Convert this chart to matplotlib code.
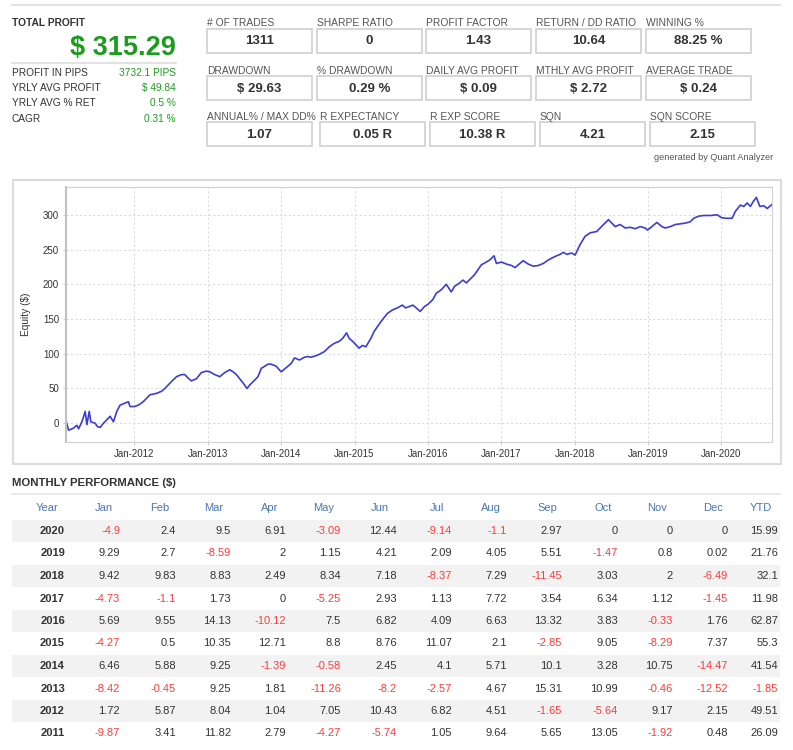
import matplotlib
matplotlib.use("Agg")
import matplotlib.pyplot as plt
import matplotlib.dates as mdates
from matplotlib.patches import Rectangle
from matplotlib.lines import Line2D
from datetime import datetime, timedelta

plt.rcParams['font.family'] = ['Liberation Sans', 'DejaVu Sans']

W, H = 793, 750

# summary block
total_profit = "$ 315.29"
summary_labels = ["PROFIT IN PIPS", "YRLY AVG PROFIT", "YRLY AVG % RET", "CAGR"]
summary_values = ["3732.1 PIPS", "$ 49.84", "0.5 %", "0.31 %"]

# metric boxes, row by row
box_labels_1 = ["# OF TRADES", "SHARPE RATIO", "PROFIT FACTOR", "RETURN / DD RATIO", "WINNING %"]
box_values_1 = ["1311", "0", "1.43", "10.64", "88.25 %"]
box_labels_2 = ["DRAWDOWN", "% DRAWDOWN", "DAILY AVG PROFIT", "MTHLY AVG PROFIT", "AVERAGE TRADE"]
box_values_2 = ["$ 29.63", "0.29 %", "$ 0.09", "$ 2.72", "$ 0.24"]
box_labels_3 = ["ANNUAL% / MAX DD%", "R EXPECTANCY", "R EXP SCORE", "SQN", "SQN SCORE"]
box_values_3 = ["1.07", "0.05 R", "10.38 R", "4.21", "2.15"]

# equity curve (decimal year, $)
eq_year = [2011.072, 2011.104, 2011.172, 2011.217, 2011.240, 2011.285, 2011.330, 2011.353, 2011.385, 2011.407,
           2011.466, 2011.498, 2011.534, 2011.579, 2011.624, 2011.670, 2011.715, 2011.760, 2011.805, 2011.873,
           2011.919, 2011.941, 2012.000, 2012.054, 2012.122, 2012.167, 2012.213, 2012.303, 2012.371, 2012.416,
           2012.462, 2012.507, 2012.575, 2012.643, 2012.688, 2012.733, 2012.778, 2012.846, 2012.914, 2012.982,
           2013.027, 2013.095, 2013.163, 2013.231, 2013.299, 2013.344, 2013.389, 2013.434, 2013.480, 2013.534,
           2013.570, 2013.638, 2013.683, 2013.729, 2013.774, 2013.819, 2013.864, 2013.932, 2014.000, 2014.068,
           2014.136, 2014.181, 2014.249, 2014.317, 2014.362, 2014.407, 2014.498, 2014.588, 2014.656, 2014.724,
           2014.792, 2014.837, 2014.891, 2014.928, 2014.973, 2015.018, 2015.063, 2015.109, 2015.154, 2015.222,
           2015.267, 2015.312, 2015.380, 2015.448, 2015.516, 2015.584, 2015.652, 2015.697, 2015.795, 2015.841,
           2015.895, 2015.954, 2016.000, 2016.068, 2016.114, 2016.182, 2016.251, 2016.319, 2016.364, 2016.433,
           2016.478, 2016.524, 2016.592, 2016.638, 2016.683, 2016.729, 2016.797, 2016.843, 2016.902, 2016.934,
           2017.002, 2017.071, 2017.139, 2017.185, 2017.253, 2017.298, 2017.367, 2017.435, 2017.503, 2017.572,
           2017.640, 2017.731, 2017.800, 2017.845, 2017.891, 2017.959, 2018.005, 2018.073, 2018.141, 2018.210,
           2018.301, 2018.346, 2018.392, 2018.460, 2018.506, 2018.551, 2018.620, 2018.688, 2018.756, 2018.825,
           2018.893, 2018.961, 2018.993, 2019.052, 2019.121, 2019.189, 2019.235, 2019.303, 2019.371, 2019.440,
           2019.508, 2019.576, 2019.622, 2019.690, 2019.759, 2019.850, 2019.941, 2020.000, 2020.055, 2020.146,
           2020.191, 2020.260, 2020.305, 2020.351, 2020.396, 2020.433, 2020.478, 2020.524, 2020.579, 2020.624,
           2020.692]
eq_value = [2, -10, -7, -3, -8, 2, 17, -2, 17, 2,
            0, -5, -6, 0, 5, 10, 2, 17, 26, 29,
            31, 24, 24, 26, 31, 36, 41, 43, 46, 50,
            55, 60, 67, 70, 70, 65, 61, 64, 73, 75,
            74, 70, 67, 73, 77, 74, 70, 64, 58, 50,
            55, 62, 67, 79, 82, 85, 85, 82, 74, 80,
            86, 94, 91, 95, 96, 95, 98, 103, 110, 115,
            118, 122, 130, 122, 118, 113, 108, 112, 110, 122,
            132, 139, 149, 158, 163, 166, 170, 166, 170, 166,
            161, 168, 171, 178, 187, 192, 200, 189, 197, 202,
            206, 202, 209, 214, 221, 228, 232, 235, 241, 230,
            232, 229, 227, 224, 230, 234, 229, 226, 227, 230,
            235, 240, 243, 246, 243, 245, 242, 257, 269, 274,
            276, 281, 286, 293, 288, 283, 286, 281, 282, 280,
            283, 281, 278, 283, 289, 283, 281, 283, 286, 287,
            288, 290, 295, 298, 299, 299, 300, 296, 295, 295,
            305, 314, 312, 317, 312, 319, 325, 312, 313, 309,
            315]

# monthly performance table
months = ["Jan", "Feb", "Mar", "Apr", "May", "Jun", "Jul", "Aug", "Sep", "Oct", "Nov", "Dec"]
years = [2020, 2019, 2018, 2017, 2016, 2015, 2014, 2013, 2012, 2011]
perf_2020 = [-4.9, 2.4, 9.5, 6.91, -3.09, 12.44, -9.14, -1.1, 2.97, 0, 0, 0]
perf_2019 = [9.29, 2.7, -8.59, 2, 1.15, 4.21, 2.09, 4.05, 5.51, -1.47, 0.8, 0.02]
perf_2018 = [9.42, 9.83, 8.83, 2.49, 8.34, 7.18, -8.37, 7.29, -11.45, 3.03, 2, -6.49]
perf_2017 = [-4.73, -1.1, 1.73, 0, -5.25, 2.93, 1.13, 7.72, 3.54, 6.34, 1.12, -1.45]
perf_2016 = [5.69, 9.55, 14.13, -10.12, 7.5, 6.82, 4.09, 6.63, 13.32, 3.83, -0.33, 1.76]
perf_2015 = [-4.27, 0.5, 10.35, 12.71, 8.8, 8.76, 11.07, 2.1, -2.85, 9.05, -8.29, 7.37]
perf_2014 = [6.46, 5.88, 9.25, -1.39, -0.58, 2.45, 4.1, 5.71, 10.1, 3.28, 10.75, -14.47]
perf_2013 = [-8.42, -0.45, 9.25, 1.81, -11.26, -8.2, -2.57, 4.67, 15.31, 10.99, -0.46, -12.52]
perf_2012 = [1.72, 5.87, 8.04, 1.04, 7.05, 10.43, 6.82, 4.51, -1.65, -5.64, 9.17, 2.15]
perf_2011 = [-9.87, 3.41, 11.82, 2.79, -4.27, -5.74, 1.05, 9.64, 5.65, 13.05, -1.92, 0.48]
ytd = [15.99, 21.76, 32.1, 11.98, 62.87, 55.3, 41.54, -1.85, 49.51, 26.09]

assert len(eq_year) == len(eq_value)

DARK = '#333333'
LABEL = '#555555'
GREEN = '#1c9c1c'
RED = '#ff3b3b'
BLUE_HDR = '#4a74b4'
BORDER = '#d0d0d0'


# pixel (top-left origin) -> figure fraction
def fx(x):
    return x / W


def fy(y):
    return 1 - y / H


def text(x, y, s, **kw):
    kw.setdefault('va', 'center')
    kw.setdefault('color', DARK)
    fig.text(fx(x), fy(y), s, **kw)


def hline(x0, x1, y, color='#e3e3e3', lw=1.5):
    fig.add_artist(Line2D([fx(x0), fx(x1)], [fy(y), fy(y)], transform=fig.transFigure,
                          color=color, lw=lw))


def rect(x0, y0, x1, y1, **kw):
    fig.add_artist(Rectangle((fx(x0), fy(y1)), (x1 - x0) / W, (y1 - y0) / H,
                             transform=fig.transFigure, **kw))


fig = plt.figure(figsize=(W / 100, H / 100), dpi=100)

# top rule
hline(12, 780, 5)

# summary block
text(12, 23.5, "TOTAL PROFIT", fontsize=7.4, fontweight='bold')
text(176, 47.5, total_profit, ha='right', fontsize=19.5, fontweight='bold', color=GREEN)
hline(12, 176, 62.5, color='#dddddd', lw=1.2)
for i, (lab, val) in enumerate(zip(summary_labels, summary_values)):
    y = 72.5 + i * 15.5
    text(12, y, lab, fontsize=7.3, color=DARK)
    text(176, y, val, ha='right', fontsize=7.3, color=GREEN)

# metric boxes
rows = [(box_labels_1, box_values_1, 29, [207, 317, 426, 536, 646]),
        (box_labels_2, box_values_2, 76, [207, 317, 426, 536, 646]),
        (box_labels_3, box_values_3, 122, [207, 320, 430, 540, 650])]
for labels, values, top, xs in rows:
    for lab, val, x0 in zip(labels, values, xs):
        text(x0, top - 5.5, lab, fontsize=7.4, color=LABEL)
        rect(x0, top, x0 + 105, top + 24, fill=False, ec=BORDER, lw=1.2)
        text(x0 + 52.5, top + 12.5, val, ha='center', fontsize=9.5, fontweight='bold')
text(773, 158, "generated by Quant Analyzer", ha='right', fontsize=6.6, color=LABEL)

# equity chart panel
rect(13, 180, 781, 464, fill=False, ec='#dcdcdc', lw=1.5)
ax = fig.add_axes([fx(66), fy(442), (772 - 66) / W, (442 - 187) / H])
dates = [datetime(int(y), 1, 1) + timedelta(days=(y - int(y)) * 365.25) for y in eq_year]
ax.plot(dates, eq_value, color='#3c3cd6', lw=1.2)
ax.set_ylim(-27, 340)
ax.set_yticks(range(0, 301, 50))
ax.set_xlim(datetime(2011, 1, 26), datetime(2020, 9, 9))
ax.xaxis.set_major_locator(mdates.YearLocator(1, month=1, day=1))
ax.xaxis.set_major_formatter(mdates.DateFormatter('%b-%Y'))
ax.grid(True, color='#dcdcdc', ls=(0, (2, 2)), lw=0.8)
ax.tick_params(labelsize=7, colors=DARK, length=2, color='#cccccc', pad=3)
for side in ['top', 'right', 'bottom']:
    ax.spines[side].set_color('#d0d0d0')
ax.spines['left'].set_color('#c0c0c0')
ax.spines['left'].set_linewidth(1.5)
ax.set_ylabel("Equity ($)", fontsize=7.3, color=DARK)
ax.yaxis.set_label_coords((31 - 66) / (772 - 66), 0.5)

# monthly performance table
text(12, 483, "MONTHLY PERFORMANCE ($)", fontsize=8.2, fontweight='bold')
hline(12, 780, 494, color='#e6e6e6', lw=1.2)

hdr_x = [47, 104, 159.5, 214, 270, 324, 380, 437, 491, 547, 603, 657, 713, 761]
val_x = [65, 120, 176, 231, 286, 341, 397, 452, 507, 562, 618, 673, 728, 778]
for lab, x in zip(["Year"] + months + ["YTD"], hdr_x):
    text(x, 508, lab, ha='center', fontsize=8, color=BLUE_HDR)

table_rows = [perf_2020, perf_2019, perf_2018, perf_2017, perf_2016,
              perf_2015, perf_2014, perf_2013, perf_2012, perf_2011]
for i, (yr, vals, tot) in enumerate(zip(years, table_rows, ytd)):
    y = 531 + i * 22.5
    if i % 2 == 0:
        rect(12, y - 11.2, 780, y + 11.2, fc='#f2f2f2', ec='none', zorder=0.5)
    text(val_x[0], y, str(yr), ha='right', fontsize=8, fontweight='bold')
    for v, x in zip(vals + [tot], val_x[1:]):
        text(x, y, f"{v:g}", ha='right', fontsize=8, color=RED if v < 0 else DARK)

fig.savefig("out.png", dpi=100)
